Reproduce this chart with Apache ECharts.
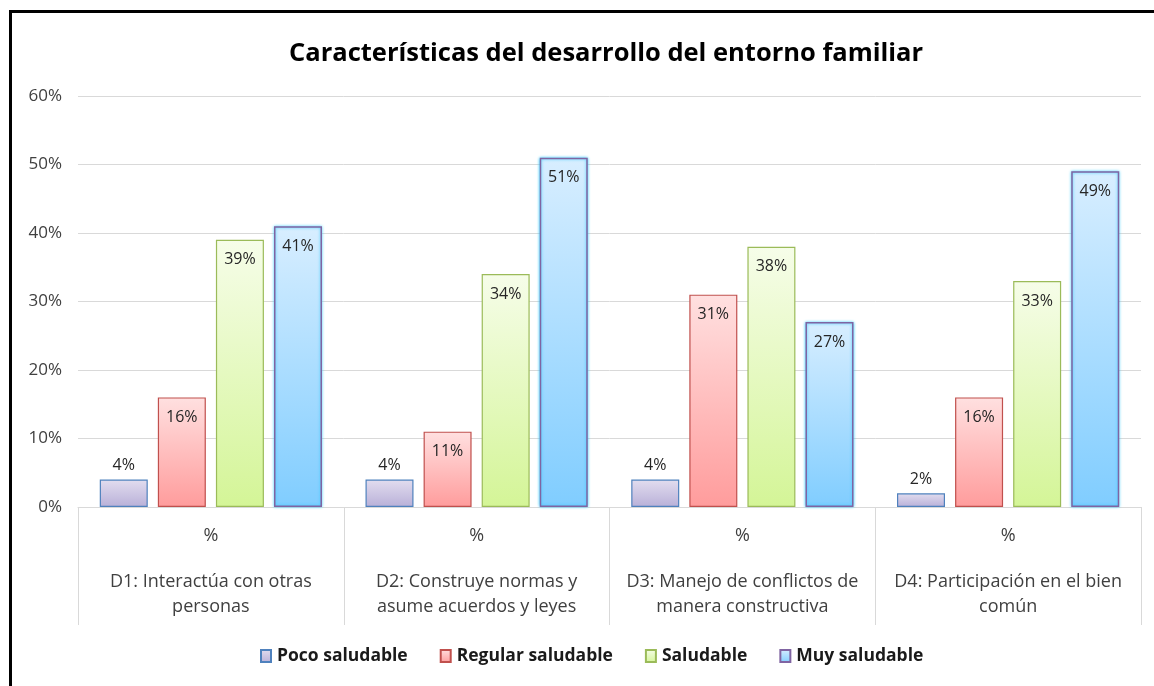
<!DOCTYPE html>
<html>
<head>
<meta charset="utf-8">
<script src="https://cdn.jsdelivr.net/npm/echarts@6/dist/echarts.min.js"></script>
<style>
  html, body { margin: 0; padding: 0; background: #fff; }
  #frame {
    position: absolute; left: 9px; top: 10px; width: 1200px; height: 700px;
    border-left: 3px solid #000; border-top: 3px solid #000;
  }
  #chart { position: absolute; left: 0; top: 0; width: 1154px; height: 686px; }
</style>
</head>
<body>
<div id="frame"></div>
<div id="chart"></div>
<script>
// categorias (dimensiones)
const categories = [
  'D1: Interactúa con otras\npersonas',
  'D2: Construye normas y\nasume acuerdos y leyes',
  'D3: Manejo de conflictos de\nmanera constructiva',
  'D4: Participación en el bien\ncomún'
];
const seriesNames = ['Poco saludable', 'Regular saludable', 'Saludable', 'Muy saludable'];
// valores en %
const pocoSaludable = [4, 4, 4, 2];
const regularSaludable = [16, 11, 31, 16];
const saludable = [39, 34, 38, 33];
const muySaludable = [41, 51, 27, 49];
const yTicks = [0, 10, 20, 30, 40, 50, 60];

const values = [pocoSaludable, regularSaludable, saludable, muySaludable];
// colores: [arriba, abajo, borde]
const palette = [
  ['#e2ddef', '#b9b0d8', '#4f81bd'],
  ['#ffe0e0', '#ff9c9c', '#c0504d'],
  ['#f6fde9', '#d4f597', '#9bbb59'],
  ['#d8eeff', '#80cdff', '#8064a2']
];

const font = '"Open Sans", "Noto Sans", sans-serif';

const chart = echarts.init(document.getElementById('chart'));

const option = {
  animation: false,
  textStyle: { fontFamily: font },
  title: {
    text: 'Características del desarrollo del entorno familiar',
    left: 284,
    top: 36,
    textStyle: { fontSize: 25.5, fontWeight: 'bold', color: '#000', fontFamily: font }
  },
  legend: {
    bottom: 16,
    left: 255,
    itemGap: 32,
    itemWidth: 10,
    itemHeight: 12,
    icon: 'rect',
    data: seriesNames,
    textStyle: { fontSize: 17.5, fontWeight: 'bold', color: '#1a1a1a', padding: [0, 0, 0, 1] }
  },
  grid: { left: 78, right: 13, top: 96, bottom: 179 },
  xAxis: {
    type: 'category',
    data: categories,
    axisLine: { lineStyle: { color: '#d9d9d9', width: 1 } },
    axisTick: { show: true, length: 118, lineStyle: { color: '#d9d9d9' } },
    axisLabel: {
      interval: 0,
      margin: -4,
      fontSize: 18,
      color: '#404040',
      lineHeight: 25,
      formatter: v => '{p|%}\n' + v,
      rich: {
        p: { fontSize: 18, color: '#404040', lineHeight: 66 }
      }
    }
  },
  yAxis: {
    type: 'value',
    min: yTicks[0],
    max: yTicks[yTicks.length - 1],
    interval: 10,
    axisLine: { show: false },
    axisTick: { show: false },
    splitLine: { lineStyle: { color: '#d9d9d9' } },
    axisLabel: { fontSize: 17, color: '#404040', margin: 16, formatter: '{value}%' }
  },
  series: values.map((vals, i) => ({
    name: seriesNames[i],
    type: 'bar',
    data: vals,
    barWidth: 48,
    barGap: '21%',
    itemStyle: {
      color: new echarts.graphic.LinearGradient(0, 0, 0, 1, [
        { offset: 0, color: palette[i][0] },
        { offset: 1, color: palette[i][1] }
      ]),
      borderColor: palette[i][2],
      borderWidth: i === 3 ? 1.5 : 1.2,
      shadowColor: i === 3 ? '#33ccff' : 'transparent',
      shadowBlur: i === 3 ? 3 : 0
    },
    label: {
      show: true,
      position: i === 0 ? 'top' : 'insideTop',
      distance: i === 0 ? 6 : 12,
      fontSize: 16,
      color: '#262626',
      formatter: '{c}%'
    }
  }))
};

chart.setOption(option);
</script>
</body>
</html>
